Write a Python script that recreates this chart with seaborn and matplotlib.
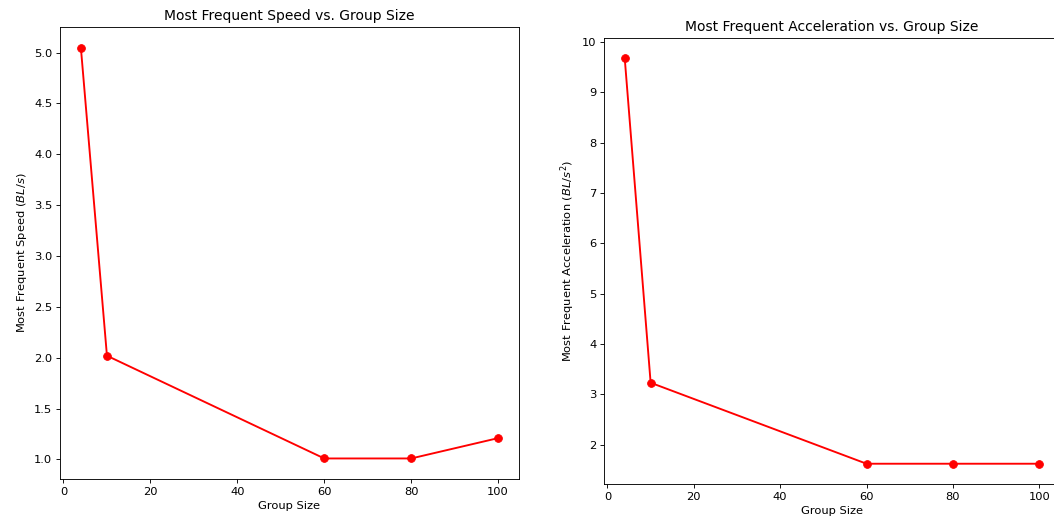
import pandas as pd
import matplotlib
matplotlib.use('Agg')
import matplotlib.pyplot as plt
import seaborn as sns

# Data
group_sizes = [4, 10, 60, 80, 100]
speed_mode = [5.05, 2.02, 1.01, 1.01, 1.21]
accel_mode = [9.68, 3.23, 1.62, 1.62, 1.62]

df = pd.DataFrame({'group_size': group_sizes,
                   'speed': speed_mode,
                   'accel': accel_mode})

plt.rcParams['axes.titlesize'] = 12.5
plt.rcParams['axes.labelsize'] = 10.3
plt.rcParams['xtick.labelsize'] = 10.3
plt.rcParams['ytick.labelsize'] = 10.3

W, H = 1054, 523
fig = plt.figure(figsize=(W / 80, H / 80), dpi=80)

# left panel: speed
ax1 = fig.add_axes([60 / W, 1 - 479 / H, 459 / W, 452 / H])
sns.lineplot(data=df, x='group_size', y='speed', marker='o', color='red',
             markeredgecolor='red', markersize=7, linewidth=1.7, ax=ax1)
ax1.set_title('Most Frequent Speed vs. Group Size')
ax1.set_xlabel('Group Size')
ax1.set_ylabel('Most Frequent Speed ($BL/s$)')

# right panel: acceleration (right edge cut off in the reference)
ax2 = fig.add_axes([604 / W, 1 - 484 / H, 456 / W, 446 / H])
sns.lineplot(data=df, x='group_size', y='accel', marker='o', color='red',
             markeredgecolor='red', markersize=7, linewidth=1.7, ax=ax2)
ax2.set_title('Most Frequent Acceleration vs. Group Size')
ax2.set_xlabel('Group Size')
ax2.set_ylabel('Most Frequent Acceleration ($BL/s^2$)')

fig.savefig('out.png', dpi=80)
